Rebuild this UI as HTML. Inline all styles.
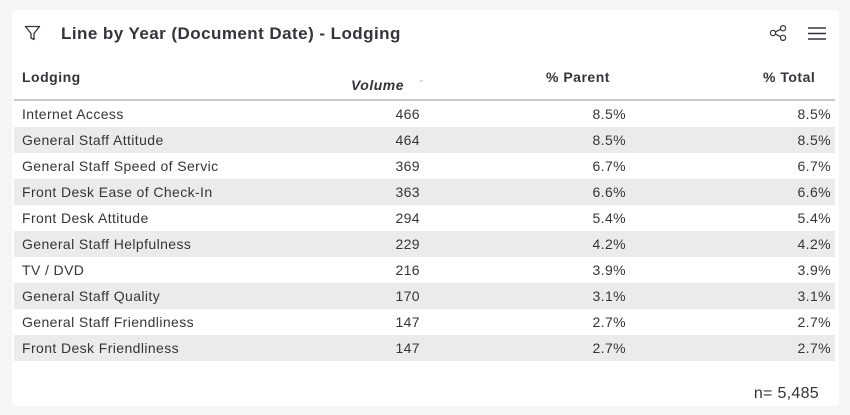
<!DOCTYPE html>
<html><head><meta charset="utf-8"><style>
html,body{margin:0;padding:0;}
body{width:850px;height:415px;background:#f4f5f6;position:relative;overflow:hidden;font-family:"Liberation Sans",sans-serif;color:#32363a;}
.card{position:absolute;left:12px;top:10px;width:827px;height:396px;background:#fff;border-radius:4px;}
.t{position:absolute;white-space:nowrap;line-height:1;}
.title{left:61px;top:25px;font-size:17px;letter-spacing:0.45px;font-weight:bold;color:#32363a;}
.hdr{font-size:14px;font-weight:bold;color:#32363a;letter-spacing:0.5px;}
.hline{position:absolute;left:14px;width:821px;top:99px;height:2px;background:#c8c8c8;}
.row{position:absolute;left:14px;width:821px;height:26px;}
.row.s{background:#ebebeb;}
.row span{position:absolute;top:6px;font-size:14px;line-height:14px;color:#32363a;white-space:nowrap;letter-spacing:0.4px;}
.c0{left:8px;}
.c1{right:415px;}
.c2{right:209px;}
.c3{right:4px;}
</style></head><body>
<div class="card"></div>
<svg style="position:absolute;left:24px;top:25px" width="17" height="16" viewBox="0 0 17 16"><path d="M1.5 1.5 H15.5 L10 8.5 V14.5 L7 13 V8.5 Z" fill="none" stroke="#32363a" stroke-width="1.3" stroke-linejoin="round"/></svg>
<div class="t title">Line by Year (Document Date) - Lodging</div>
<svg style="position:absolute;left:769px;top:25px" width="19" height="16" viewBox="0 0 19 16"><circle cx="4" cy="8" r="2.6" fill="none" stroke="#32363a" stroke-width="1.2"/><circle cx="14" cy="3.2" r="2.6" fill="none" stroke="#32363a" stroke-width="1.2"/><circle cx="14" cy="12.8" r="2.6" fill="none" stroke="#32363a" stroke-width="1.2"/><path d="M6.3 6.9 L11.7 4.3 M6.3 9.1 L11.7 11.7" stroke="#32363a" stroke-width="1.2"/></svg>
<svg style="position:absolute;left:808px;top:27px" width="19" height="13" viewBox="0 0 19 13"><path d="M0 1 H18 M0 6.5 H18 M0 12 H18" stroke="#32363a" stroke-width="1.5"/></svg>
<div class="t hdr" style="left:22px;top:70px;">Lodging</div>
<div class="t hdr" style="right:446px;top:78px;font-style:italic;">Volume</div>
<div class="t" style="left:420px;top:80px;font-size:9px;color:#999;">ˇ</div>
<div class="t hdr" style="left:546px;top:70px;">% Parent</div>
<div class="t hdr" style="left:763px;top:70px;">% Total</div>
<div class="hline"></div>
<div class="row" style="top:101px"><span class="c0">Internet Access</span><span class="c1">466</span><span class="c2">8.5%</span><span class="c3">8.5%</span></div>
<div class="row s" style="top:127px"><span class="c0">General Staff Attitude</span><span class="c1">464</span><span class="c2">8.5%</span><span class="c3">8.5%</span></div>
<div class="row" style="top:153px"><span class="c0">General Staff Speed of Servic</span><span class="c1">369</span><span class="c2">6.7%</span><span class="c3">6.7%</span></div>
<div class="row s" style="top:179px"><span class="c0">Front Desk Ease of Check-In</span><span class="c1">363</span><span class="c2">6.6%</span><span class="c3">6.6%</span></div>
<div class="row" style="top:205px"><span class="c0">Front Desk Attitude</span><span class="c1">294</span><span class="c2">5.4%</span><span class="c3">5.4%</span></div>
<div class="row s" style="top:231px"><span class="c0">General Staff Helpfulness</span><span class="c1">229</span><span class="c2">4.2%</span><span class="c3">4.2%</span></div>
<div class="row" style="top:257px"><span class="c0">TV / DVD</span><span class="c1">216</span><span class="c2">3.9%</span><span class="c3">3.9%</span></div>
<div class="row s" style="top:283px"><span class="c0">General Staff Quality</span><span class="c1">170</span><span class="c2">3.1%</span><span class="c3">3.1%</span></div>
<div class="row" style="top:309px"><span class="c0">General Staff Friendliness</span><span class="c1">147</span><span class="c2">2.7%</span><span class="c3">2.7%</span></div>
<div class="row s" style="top:335px"><span class="c0">Front Desk Friendliness</span><span class="c1">147</span><span class="c2">2.7%</span><span class="c3">2.7%</span></div>
<div class="t" style="right:31px;top:386px;font-size:16px;letter-spacing:0.3px;">n= 5,485</div>
</body></html>
